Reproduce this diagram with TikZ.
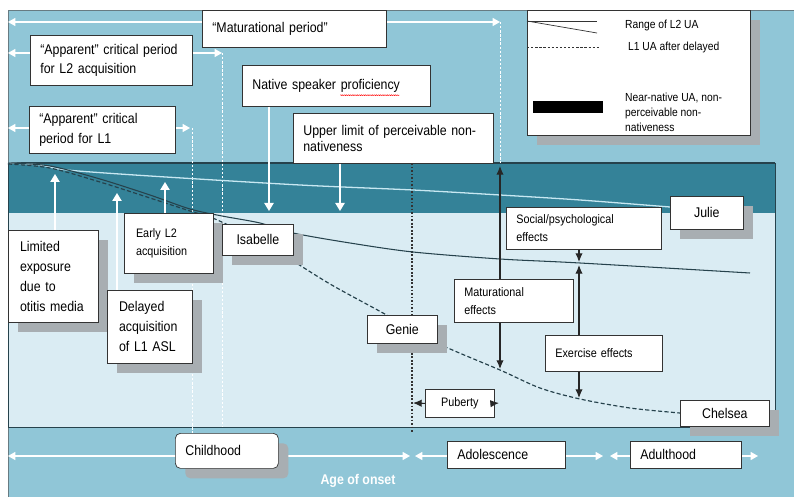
\documentclass[tikz,border=0pt]{standalone}
\usepackage{fontspec}
\setmainfont{Liberation Sans}[FakeStretch=0.88]
\usepackage{tikz}
\usetikzlibrary{arrows.meta,shadows,calc,decorations.pathmorphing}
\definecolor{outerblue}{RGB}{144,198,215}
\definecolor{bandteal}{RGB}{52,130,152}
\definecolor{paleblue}{RGB}{218,236,243}
\definecolor{rimdark}{RGB}{38,66,76}
\definecolor{rangelight}{RGB}{200,232,242}
\definecolor{shadegray}{RGB}{168,174,178}
\tikzstyle{box} = [draw=black!80, fill=white, line width=0.6pt, anchor=north west, align=left, inner xsep=3mm, inner ysep=0.5mm]
\tikzstyle{namebox} = [draw=black!80, fill=white, line width=0.6pt, anchor=north west, align=center, inner sep=0pt]
\tikzstyle{shade} = [drop shadow={shadow xshift=3mm, shadow yshift=-3mm, fill=shadegray, opacity=1}]
\tikzstyle{bigtxt} = [font=\fontsize{12}{17}\selectfont]
\tikzstyle{midtxt} = [font=\fontsize{12}{17}\selectfont]
\tikzstyle{smalltxt} = [font=\fontsize{10.5}{15}\selectfont]
\tikzstyle{legtxt} = [font=\fontsize{10}{12.8}\selectfont]
\tikzstyle{warrow} = [white, line width=1.2pt, -{Triangle[length=2.4mm,width=2.8mm]}]
\tikzstyle{wspan} = [white, line width=1.2pt, {Triangle[length=2.2mm,width=2.4mm]}-{Triangle[length=2.2mm,width=2.4mm]}]
\tikzstyle{wdots} = [white, line width=0.8pt, dash pattern=on 2pt off 1.5pt]
\tikzstyle{barrow} = [black!85, line width=0.9pt, -{Latex[length=2.6mm,width=2.2mm]}]
\tikzstyle{bspan} = [black!85, line width=0.9pt, {Latex[length=2.6mm,width=2.2mm]}-{Latex[length=2.6mm,width=2.2mm]}]

\begin{document}
\begin{tikzpicture}[x=0.3mm,y=-0.3mm]
    \useasboundingbox (0,0) rectangle (794,497);
    \fill[white] (0,0) rectangle (794,497);
    \fill[outerblue] (8,10) rectangle (794,497);
    \draw[rimdark!70, line width=0.7pt] (8,497) -- (8,10) -- (794,10);
    \fill[bandteal] (8,163) rectangle (775,213);
    \fill[paleblue] (8,213) rectangle (775,427);
    \draw[rimdark, line width=1.5pt] (8,163) -- (775,163);
    \draw[rimdark, line width=0.8pt] (775,163) -- (775,427) -- (8,427) -- (8,163);

    \coordinate (matL) at (8,22);
    \coordinate (matR) at (500,22);
    \coordinate (matFoot) at (500,163);
    \coordinate (aptL) at (8,53);
    \coordinate (aptR) at (222,53);
    \coordinate (aptFoot) at (222,427);
    \coordinate (aloL) at (8,128);
    \coordinate (aloR) at (190,128);
    \coordinate (aloTop) at (192,128);
    \coordinate (aloFoot) at (192,433);
    \coordinate (pubTop) at (412,163);
    \coordinate (pubFoot) at (412,432);

    \draw[wspan] (matL) -- (matR);
    \draw[wspan] (aptL) -- (aptR);
    \draw[wspan] (aloL) -- (aloR);
    \draw[wdots] (matR) -- (matFoot);
    \draw[wdots] (aptR) -- (aptFoot);
    \draw[wdots] (aloTop) -- (aloFoot);
    \draw[black!80, line width=1pt, dash pattern=on 1.5pt off 1.5pt] (pubTop) -- (pubFoot);

    \draw[rangelight, line width=1.1pt] plot[smooth] coordinates {(8,163) (40,165) (67,170) (150,176) (300,185) (413,190) (500,195) (580,200) (670,207)};
    \draw[rimdark, line width=0.9pt] plot[smooth] coordinates {(8,163) (50,166) (100,179) (150,195) (190,209) (222,216) (260,223) (293,233) (350,243) (413,252) (500,259) (580,263) (750,273)};
    \draw[rimdark, line width=1pt, dash pattern=on 3.5pt off 2pt] plot[smooth] coordinates {(8,164) (50,168) (100,182) (150,198) (190,211) (215,219) (250,236) (285,256) (330,284) (383,313) (437,343) (500,370) (540,388) (580,399) (630,408) (680,413)};

    \coordinate (mTop) at (500,166);
    \coordinate (mBot) at (500,369);
    \draw[bspan] (mBot) -- (mTop);

    \node[box, midtxt, text width=49.2mm, minimum height=11.1mm] (matper) at (202,10) {“Maturational period”};
    \node[box, midtxt, text width=42.6mm, minimum height=15mm] (aptwo) at (30,35) {“Apparent” critical period\\for L2 acquisition};
    \node[box, midtxt, text width=37.8mm, minimum height=14.1mm] (aone) at (29,106) {“Apparent” critical\\period for L1};
    \node[box, midtxt, text width=50.4mm, minimum height=12.3mm] (nsp) at (242,65) {Native speaker proficiency};
    \draw[red, line width=0.4pt, decorate, decoration={snake, amplitude=0.35pt, segment length=1.6pt}] ($(nsp.west)+(29.5mm,-2.8mm)$) -- ++(17.7mm,0);
    \node[box, font=\fontsize{12}{13.6}\selectfont, text width=54mm, minimum height=15mm] (upper) at (293,113) {Upper limit of perceivable non-\\nativeness};

    \node[namebox, shade, minimum width=66.9mm, minimum height=37.5mm] (legend) at (527,10) {};
    \draw[black!80, line width=0.6pt] (527,21) -- (597,21);
    \draw[black!80, line width=0.6pt] (527,21) -- (597,33);
    \draw[black!80, line width=0.6pt, dash pattern=on 2pt off 1.5pt] (527,47) -- (600,47);
    \fill[black] (533,101) rectangle (603,113);
    \node[anchor=west, legtxt] (lgrange) at (621,25) {Range of L2 UA};
    \node[anchor=west, legtxt] (lgdelay) at (624,47) {L1 UA after delayed};
    \node[anchor=west, align=left, legtxt] (lgnear) at (621,112) {Near-native UA, non-\\perceivable non-\\nativeness};

    \node[box, bigtxt, shade, inner xsep=3.5mm, text width=20mm, minimum height=27.6mm] (limited) at (8,230) {Limited\\exposure\\due to\\otitis media};
    \node[box, bigtxt, shade, inner xsep=3.5mm, text width=18.5mm, minimum height=21.9mm] (delayed) at (107,290) {Delayed\\acquisition\\of L1 ASL};
    \node[box, font=\fontsize{10.5}{16}\selectfont, shade, inner xsep=3.5mm, text width=19.7mm, minimum height=18mm] (early) at (124,213) {Early L2\\acquisition\\[4mm]};

    \node[namebox, midtxt, shade, minimum width=21.3mm, minimum height=9.3mm] (isabelle) at (222,224) {Isabelle};
    \node[namebox, midtxt, shade, minimum width=21mm, minimum height=8.4mm] (genie) at (367,315) {Genie};
    \node[namebox, midtxt, shade, minimum width=21.9mm, minimum height=9.9mm] (julie) at (670,196) {Julie};
    \node[namebox, midtxt, shade, minimum width=26.7mm, minimum height=7.8mm] (chelsea) at (680,400) {Chelsea};

    \node[box, smalltxt, text width=40.5mm, minimum height=12.6mm] (social) at (506,207) {Social/psychological\\effects};
    \node[box, smalltxt, text width=29.7mm, minimum height=12.9mm] (matfx) at (454,279) {Maturational\\effects};
    \node[box, smalltxt, text width=29.1mm, minimum height=10.8mm] (exercise) at (545,335) {Exercise effects};
    \node[namebox, smalltxt, minimum width=20.7mm, minimum height=8.4mm] (puberty) at (425,389) {Puberty};

    \coordinate (limTip) at (55,174);
    \coordinate (delTip) at (117,193);
    \coordinate (earlyTip) at (165,182);
    \coordinate (nspTip) at (269,211);
    \coordinate (uplTip) at (340,211);
    \draw[warrow] (limTip |- limited.north) -- (limTip);
    \draw[warrow] (delTip |- delayed.north) -- (delTip);
    \draw[warrow] (earlyTip |- early.north) -- (earlyTip);
    \draw[warrow] (nspTip |- nsp.south) -- (nspTip);
    \draw[warrow] (uplTip |- upper.south) -- (uplTip);

    \coordinate (sTip) at (579,262);
    \coordinate (eUpTip) at (579,265);
    \coordinate (eDnTip) at (579,398);
    \coordinate (pubL) at (413,403);
    \coordinate (pubR) at (499,403);
    \draw[barrow] (sTip |- social.south) -- (sTip);
    \draw[barrow] (eUpTip |- exercise.north) -- (eUpTip);
    \draw[barrow] (eDnTip |- exercise.south) -- (eDnTip);
    \draw[barrow] (puberty.west) -- (pubL);
    \draw[barrow] (puberty.east) -- (pubR);

    \coordinate (chL) at (8,456);
    \coordinate (chR) at (410,456);
    \coordinate (adoL) at (415,456);
    \coordinate (adoR) at (603,456);
    \coordinate (aduL) at (610,456);
    \coordinate (aduR) at (758,456);
    \draw[wspan] (chL) -- (chR);
    \draw[wspan] (adoL) -- (adoR);
    \draw[wspan] (aduL) -- (aduR);

    \node[box, midtxt, shade, rounded corners=1.5mm, text width=24.9mm, minimum height=10.5mm] (childhood) at (175,433) {Childhood};
    \node[box, midtxt, text width=29.4mm, minimum height=8.1mm] (adolescence) at (447,441) {Adolescence};
    \node[box, midtxt, text width=27.3mm, minimum height=8.1mm] (adulthood) at (630,441) {Adulthood};
    \node[white, font=\fontsize{12}{14}\selectfont\bfseries] (onset) at (358,481) {Age of onset};
\end{tikzpicture}
\end{document}
